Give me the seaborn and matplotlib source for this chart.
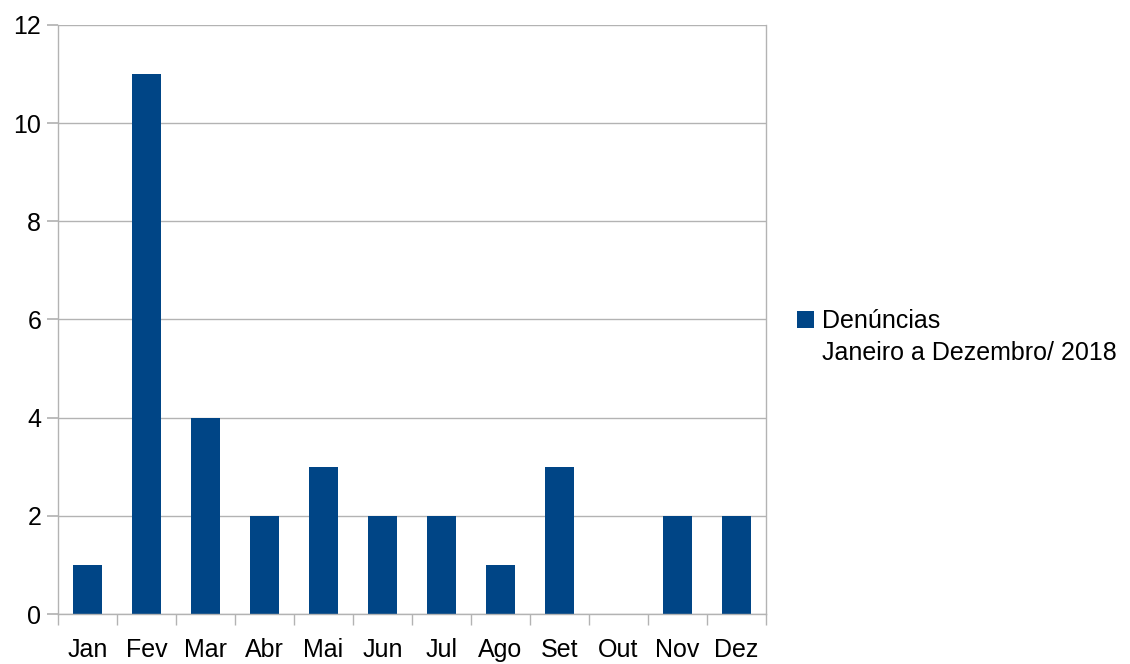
import matplotlib
matplotlib.use("Agg")
import matplotlib.pyplot as plt
import seaborn as sns
import pandas as pd
import numpy as np

months = ["Jan", "Fev", "Mar", "Abr", "Mai", "Jun", "Jul", "Ago", "Set", "Out", "Nov", "Dez"]
denuncias = [1, 11, 4, 2, 3, 2, 2, 1, 3, 0, 2, 2]
series_title = "Denúncias"
series_subtitle = "Janeiro a Dezembro/ 2018"

df = pd.DataFrame({"mes": months, "valor": denuncias})

sns.set_theme(style="white")
plt.rcParams["font.family"] = ["Liberation Sans", "DejaVu Sans"]
plt.rcParams["text.color"] = "black"
plt.rcParams["xtick.color"] = "black"
plt.rcParams["ytick.color"] = "black"

fs = 18

fig = plt.figure(figsize=(11.3, 6.64), dpi=100)
ax = fig.add_axes([58 / 1130, 1 - 614 / 664, (766 - 58) / 1130, (614 - 25) / 664])

sns.barplot(data=df, x="mes", y="valor", color="#004586", width=0.5,
            saturation=1, ax=ax, label=series_title, linewidth=0)

ax.set_ylim(0, 12)
ax.set_xlim(-0.5, len(months) - 0.5)
ax.set_yticks(np.arange(0, 13, 2))
ax.yaxis.grid(True, color="#b3b3b3", linewidth=1)
ax.set_axisbelow(True)
ax.set_xlabel("")
ax.set_ylabel("")

# tick marks between categories
ax.set_xticks(np.arange(-0.5, len(months), 1), minor=True)
ax.tick_params(axis="x", which="major", length=0, labelsize=fs, pad=17, labelcolor="black")
ax.tick_params(axis="x", which="minor", length=8, color="#b3b3b3", bottom=True)
ax.tick_params(axis="y", which="major", length=8, color="#b3b3b3", left=True,
               labelsize=fs, labelcolor="black", pad=4)

for side in ["left", "bottom", "right", "top"]:
    ax.spines[side].set_color("#b3b3b3")
    ax.spines[side].set_linewidth(1)
ax.spines["top"].set_visible(False)

leg = ax.legend(loc="center left", bbox_to_anchor=(797 / 1130, 1 - 321 / 664),
                bbox_transform=fig.transFigure, frameon=False, fontsize=fs,
                handlelength=0.68, handleheight=0.68, handletextpad=0.3,
                borderpad=0, borderaxespad=0)
fig.text(822 / 1130, 1 - 353 / 664, series_subtitle, fontsize=fs, va="center", ha="left")

fig.savefig("out.png", dpi=100)
